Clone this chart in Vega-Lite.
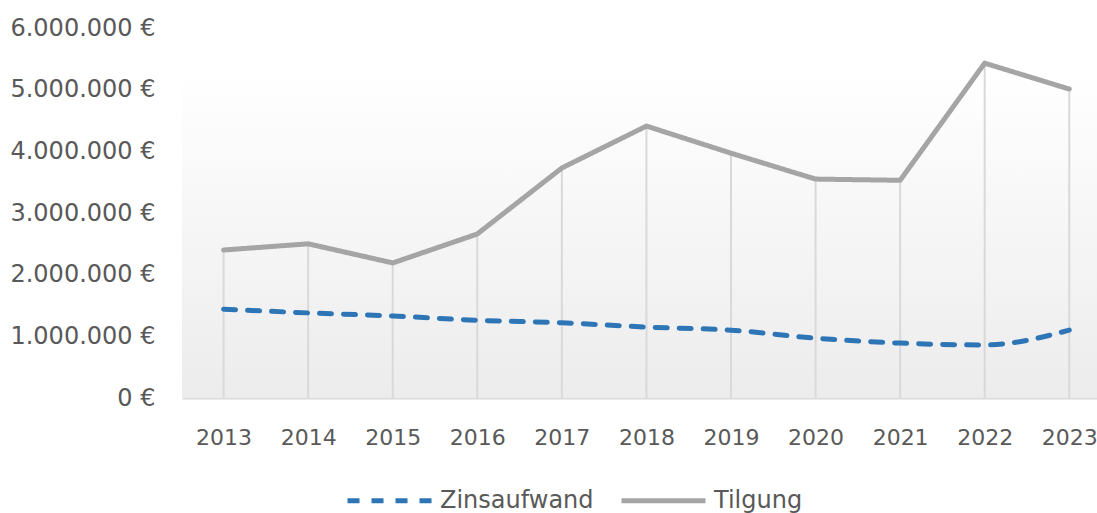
{
  "$schema": "https://vega.github.io/schema/vega-lite/v6.json",
  "width": 915,
  "height": 370,
  "autosize": {"type": "none"},
  "padding": {"left": 182, "top": 28, "right": 0, "bottom": 115},
  "background": "#ffffff",
  "config": {
    "view": {"stroke": null},
    "font": "DejaVu Sans",
    "locale": {"number": {"decimal": ",", "thousands": ".", "grouping": [3], "currency": ["", " €"]}}
  },
  "data": {
    "values": [
      {"year": "2013", "series": "Zinsaufwand", "value": 1440000},
      {"year": "2014", "series": "Zinsaufwand", "value": 1380000},
      {"year": "2015", "series": "Zinsaufwand", "value": 1330000},
      {"year": "2016", "series": "Zinsaufwand", "value": 1260000},
      {"year": "2017", "series": "Zinsaufwand", "value": 1220000},
      {"year": "2018", "series": "Zinsaufwand", "value": 1150000},
      {"year": "2019", "series": "Zinsaufwand", "value": 1100000},
      {"year": "2020", "series": "Zinsaufwand", "value": 970000},
      {"year": "2021", "series": "Zinsaufwand", "value": 890000},
      {"year": "2022", "series": "Zinsaufwand", "value": 860000},
      {"year": "2023", "series": "Zinsaufwand", "value": 1100000},
      {"year": "2013", "series": "Tilgung", "value": 2400000},
      {"year": "2014", "series": "Tilgung", "value": 2500000},
      {"year": "2015", "series": "Tilgung", "value": 2190000},
      {"year": "2016", "series": "Tilgung", "value": 2660000},
      {"year": "2017", "series": "Tilgung", "value": 3730000},
      {"year": "2018", "series": "Tilgung", "value": 4410000},
      {"year": "2019", "series": "Tilgung", "value": 3970000},
      {"year": "2020", "series": "Tilgung", "value": 3550000},
      {"year": "2021", "series": "Tilgung", "value": 3530000},
      {"year": "2022", "series": "Tilgung", "value": 5430000},
      {"year": "2023", "series": "Tilgung", "value": 5010000}
    ]
  },
  "encoding": {
    "x": {
      "field": "year", "type": "ordinal",
      "scale": {"type": "point", "padding": 0.41, "align": 0.6},
      "axis": {
        "title": null, "ticks": false, "grid": false,
        "domain": true, "domainColor": "#d9d9d9", "domainWidth": 2,
        "labelAngle": 0, "labelAlign": "center", "labelFontSize": 22, "labelColor": "#595959",
        "labelPadding": 29, "labelFont": "DejaVu Sans"
      }
    },
    "y": {
      "field": "value", "type": "quantitative",
      "scale": {"domain": [0, 6000000], "nice": false},
      "axis": {
        "title": null, "ticks": false, "grid": false, "domain": false,
        "values": [0, 1000000, 2000000, 3000000, 4000000, 5000000, 6000000],
        "format": "$,.0f",
        "labelFontSize": 24, "labelColor": "#595959", "labelPadding": 27,
        "labelFont": "DejaVu Sans"
      }
    }
  },
  "layer": [
    {
      "mark": {
        "type": "rect",
        "color": {"gradient": "linear", "x1": 0, "y1": 0, "x2": 0, "y2": 1,
          "stops": [{"offset": 0, "color": "#ffffff"}, {"offset": 1, "color": "#ececec"}]}
      },
      "encoding": {
        "x": null,
        "y": {"datum": 5280000, "type": "quantitative"},
        "y2": {"datum": 0}
      }
    },
    {
      "transform": [{"filter": "datum.series === 'Tilgung'"}],
      "mark": {"type": "rule", "color": "#d9d9d9", "strokeWidth": 2},
      "encoding": {
        "y2": {"datum": 0}
      }
    },
    {
      "transform": [{"filter": "datum.series === 'Zinsaufwand'"}],
      "mark": {"type": "line", "strokeWidth": 5, "strokeCap": "round", "interpolate": "monotone"},
      "encoding": {
        "color": {
          "field": "series", "type": "nominal",
          "scale": {"domain": ["Zinsaufwand", "Tilgung"], "range": ["#2e75b6", "#a5a5a5"]},
          "legend": {
            "title": null, "orient": "none", "direction": "horizontal",
            "legendX": 163, "legendY": 428,
            "symbolType": "stroke", "symbolSize": 7056, "symbolStrokeWidth": 5,
            "labelFontSize": 24, "labelColor": "#595959", "labelOffset": 6,
            "labelFont": "DejaVu Sans", "columnPadding": 17
          }
        },
        "strokeDash": {
          "field": "series", "type": "nominal",
          "scale": {"domain": ["Zinsaufwand", "Tilgung"], "range": [[12, 12], [1, 0]]},
          "legend": null
        }
      }
    },
    {
      "transform": [{"filter": "datum.series === 'Tilgung'"}],
      "mark": {"type": "line", "strokeWidth": 5, "strokeCap": "round", "strokeJoin": "round"},
      "encoding": {
        "color": {"field": "series", "type": "nominal"},
        "strokeDash": {"field": "series", "type": "nominal"}
      }
    }
  ]
}
